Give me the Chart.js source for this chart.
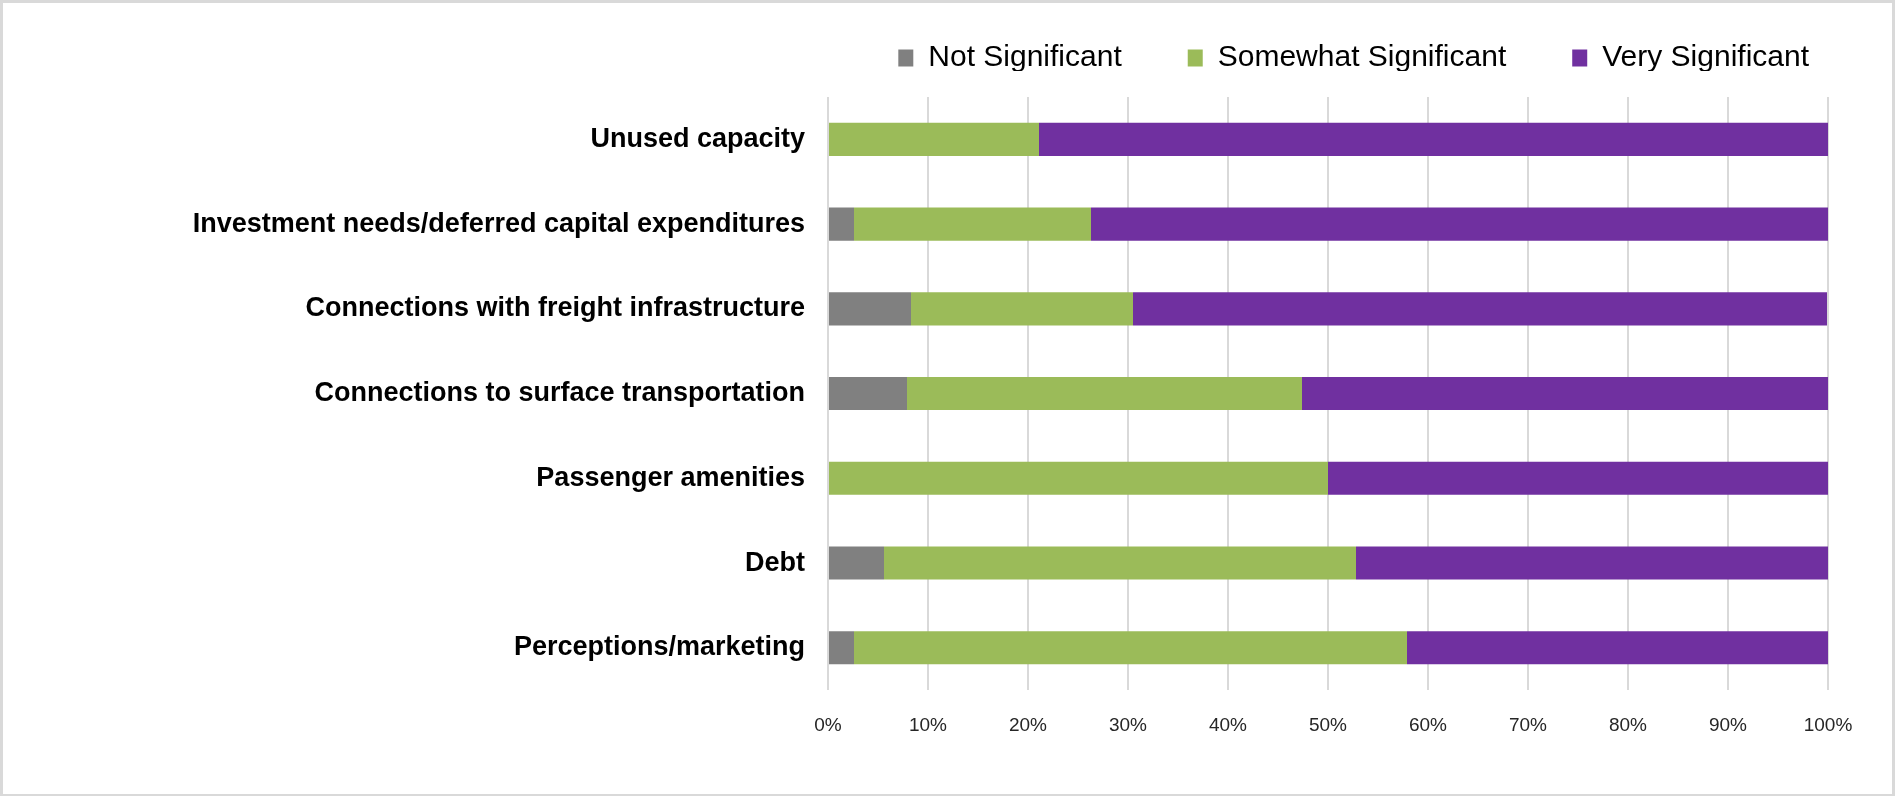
<!DOCTYPE html>
<html>
<head>
<meta charset="utf-8">
<script src="https://cdn.jsdelivr.net/npm/chart.js@4/dist/chart.umd.min.js"></script>
<style>
  html, body { margin: 0; padding: 0; background: #fff; }
  .frame {
    width: 1895px; height: 796px; box-sizing: border-box;
    border: 3px solid #d9d9d9; border-bottom-width: 2px; background: #fff;
  }
</style>
</head>
<body>
<div class="frame"><canvas id="chart" width="1889" height="791"></canvas></div>
<script>
// Chart data (percent of respondents)
const categories = [
  "Unused capacity",
  "Investment needs/deferred capital expenditures",
  "Connections with freight infrastructure",
  "Connections to surface transportation",
  "Passenger amenities",
  "Debt",
  "Perceptions/marketing",
];
const notSignificant = [0, 2.6, 8.3, 7.9, 0, 5.6, 2.6];
const somewhatSignificant = [21.1, 23.7, 22.2, 39.5, 50, 47.2, 55.3];
const verySignificant = [78.9, 73.7, 69.4, 52.6, 50, 47.2, 42.1];
const xTicks = [0, 10, 20, 30, 40, 50, 60, 70, 80, 90, 100];

const FONT = "'Liberation Sans', Arial, sans-serif";

// legend: fixed block height, then nudge it right/up to sit like the original
const legendPlacement = {
  id: "legendPlacement",
  beforeInit(chart) {
    const fit = chart.legend.fit;
    chart.legend.fit = function () {
      fit.call(this);
      this.height = 94;
    };
  },
  afterLayout(chart) {
    const lg = chart.legend;
    lg.left += 47;
    lg.right += 47;
    lg.top -= 26;
    lg.bottom -= 26;
  },
};

const initChart = () => {
  const ctx = document.getElementById("chart").getContext("2d");
  new Chart(ctx, {
    type: "bar",
    data: {
      labels: categories,
      datasets: [
        { label: "Not Significant", data: notSignificant, backgroundColor: "#808080" },
        { label: "Somewhat Significant", data: somewhatSignificant, backgroundColor: "#9bbb59" },
        { label: "Very Significant", data: verySignificant, backgroundColor: "#7030a0" },
      ],
    },
    options: {
      indexAxis: "y",
      responsive: false,
      animation: false,
      barPercentage: 0.39,
      categoryPercentage: 1,
      layout: { padding: { top: 0, right: 64, bottom: 33, left: 0 } },
      plugins: {
        tooltip: { enabled: false },
        legend: {
          position: "top",
          align: "end",
          labels: {
            color: "#000",
            font: { family: FONT, size: 30 },
            boxWidth: 15,
            boxHeight: 17,
            padding: 66,
          },
        },
      },
      scales: {
        x: {
          stacked: true,
          min: 0,
          max: 100,
          afterBuildTicks: (axis) => {
            axis.ticks = xTicks.map((v) => ({ value: v }));
          },
          grid: { color: "#d9d9d9", lineWidth: 2, drawTicks: false },
          border: { display: false },
          ticks: {
            color: "#262626",
            font: { family: FONT, size: 19 },
            padding: 24,
            callback: (v) => v + "%",
          },
        },
        y: {
          stacked: true,
          grid: { display: false },
          border: { display: false },
          afterFit: (axis) => {
            axis.width = 825;
          },
          ticks: {
            color: "#000",
            font: { family: FONT, size: 27, weight: "bold" },
            padding: 15,
          },
        },
      },
    },
    plugins: [legendPlacement],
  });
};

document.addEventListener("DOMContentLoaded", initChart);
</script>
</body>
</html>
